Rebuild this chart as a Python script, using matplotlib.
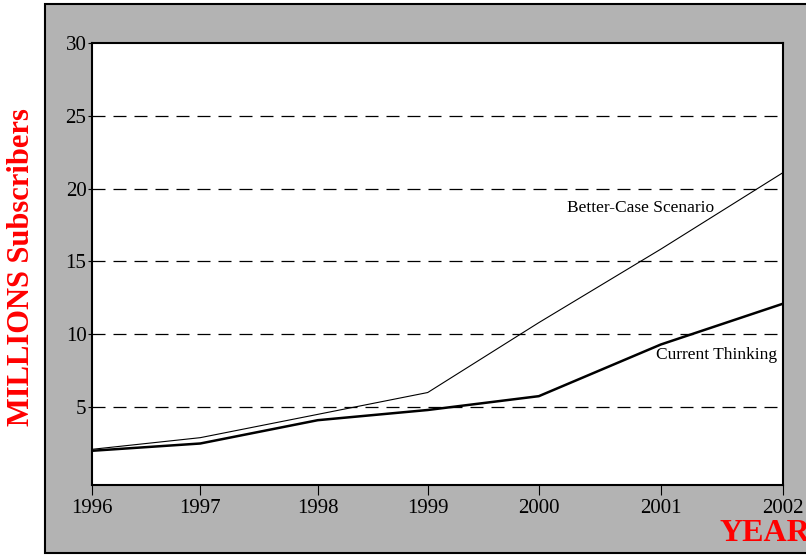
import numpy as np
import matplotlib.pyplot as plt
from matplotlib.patches import Rectangle

years = [1996, 1997, 1998, 1999, 2000, 2001, 2002]
current_thinking = [2.0, 2.5, 4.1, 4.8, 5.75, 9.3, 12.1]
better_case = [2.1, 2.9, 4.5, 6.0, 10.8, 15.85, 21.1]
y_ticks = [5, 10, 15, 20, 25, 30]

# the original's year slots are not evenly spaced
slot_pos = [0, 0.94, 1.96, 2.915, 3.88, 4.94, 6]

def fwd(x):
    return np.interp(x, years, slot_pos)

def inv(x):
    return np.interp(x, slot_pos, years)

plt.rcParams['font.family'] = ['Liberation Serif', 'DejaVu Serif']

fig = plt.figure(figsize=(8.06, 5.56), dpi=100)
fig.patch.set_facecolor('white')

# grey panel behind the plot
fig.patches.append(Rectangle((45/806, 1 - 553/556), 1.0, 549/556, transform=fig.transFigure,
                             facecolor='#b3b3b3', edgecolor='black', linewidth=1.5, zorder=-5))

ax = fig.add_axes([92/806, 1 - 485/556, 691/806, 442/556])
ax.set_facecolor('white')
ax.set_zorder(2)
ax.set_xscale('function', functions=(fwd, inv))

for y in [5, 10, 15, 20, 25]:
    ax.axhline(y, color='black', linestyle=(0, (10.4, 6.4)), linewidth=0.9, zorder=1)

ax.plot(years, better_case, color='black', linewidth=0.8, zorder=3)
ax.plot(years, current_thinking, color='black', linewidth=1.8, zorder=3)

ax.text(2000.23, 18.65, 'Better-Case Scenario', fontsize=12.5, va='center', ha='left')
ax.text(2000.96, 8.6, 'Current Thinking', fontsize=12.5, va='center', ha='left')

ax.set_xlim(1996, 2002)
ax.set_ylim(-0.35, 30)
ax.set_xticks(years)
ax.set_xticklabels([str(y) for y in years])
ax.minorticks_off()
ax.set_yticks(y_ticks)
ax.tick_params(axis='both', labelsize=15, direction='out', width=0.8, colors='black')
ax.tick_params(axis='x', pad=3, length=7)
ax.tick_params(axis='y', pad=1, length=3)

for s in ax.spines.values():
    s.set_linewidth(1.5)

fig.text(22/806, 1 - 267/556, 'MILLIONS Subscribers', rotation=90, color='red',
         fontsize=22, fontweight='bold', ha='center', va='center')
fig.text(720/806, 1 - 541/556, 'YEAR', color='red', fontsize=23, fontweight='bold',
         ha='left', va='baseline')

fig.savefig('out.png', dpi=100, facecolor=fig.get_facecolor())
